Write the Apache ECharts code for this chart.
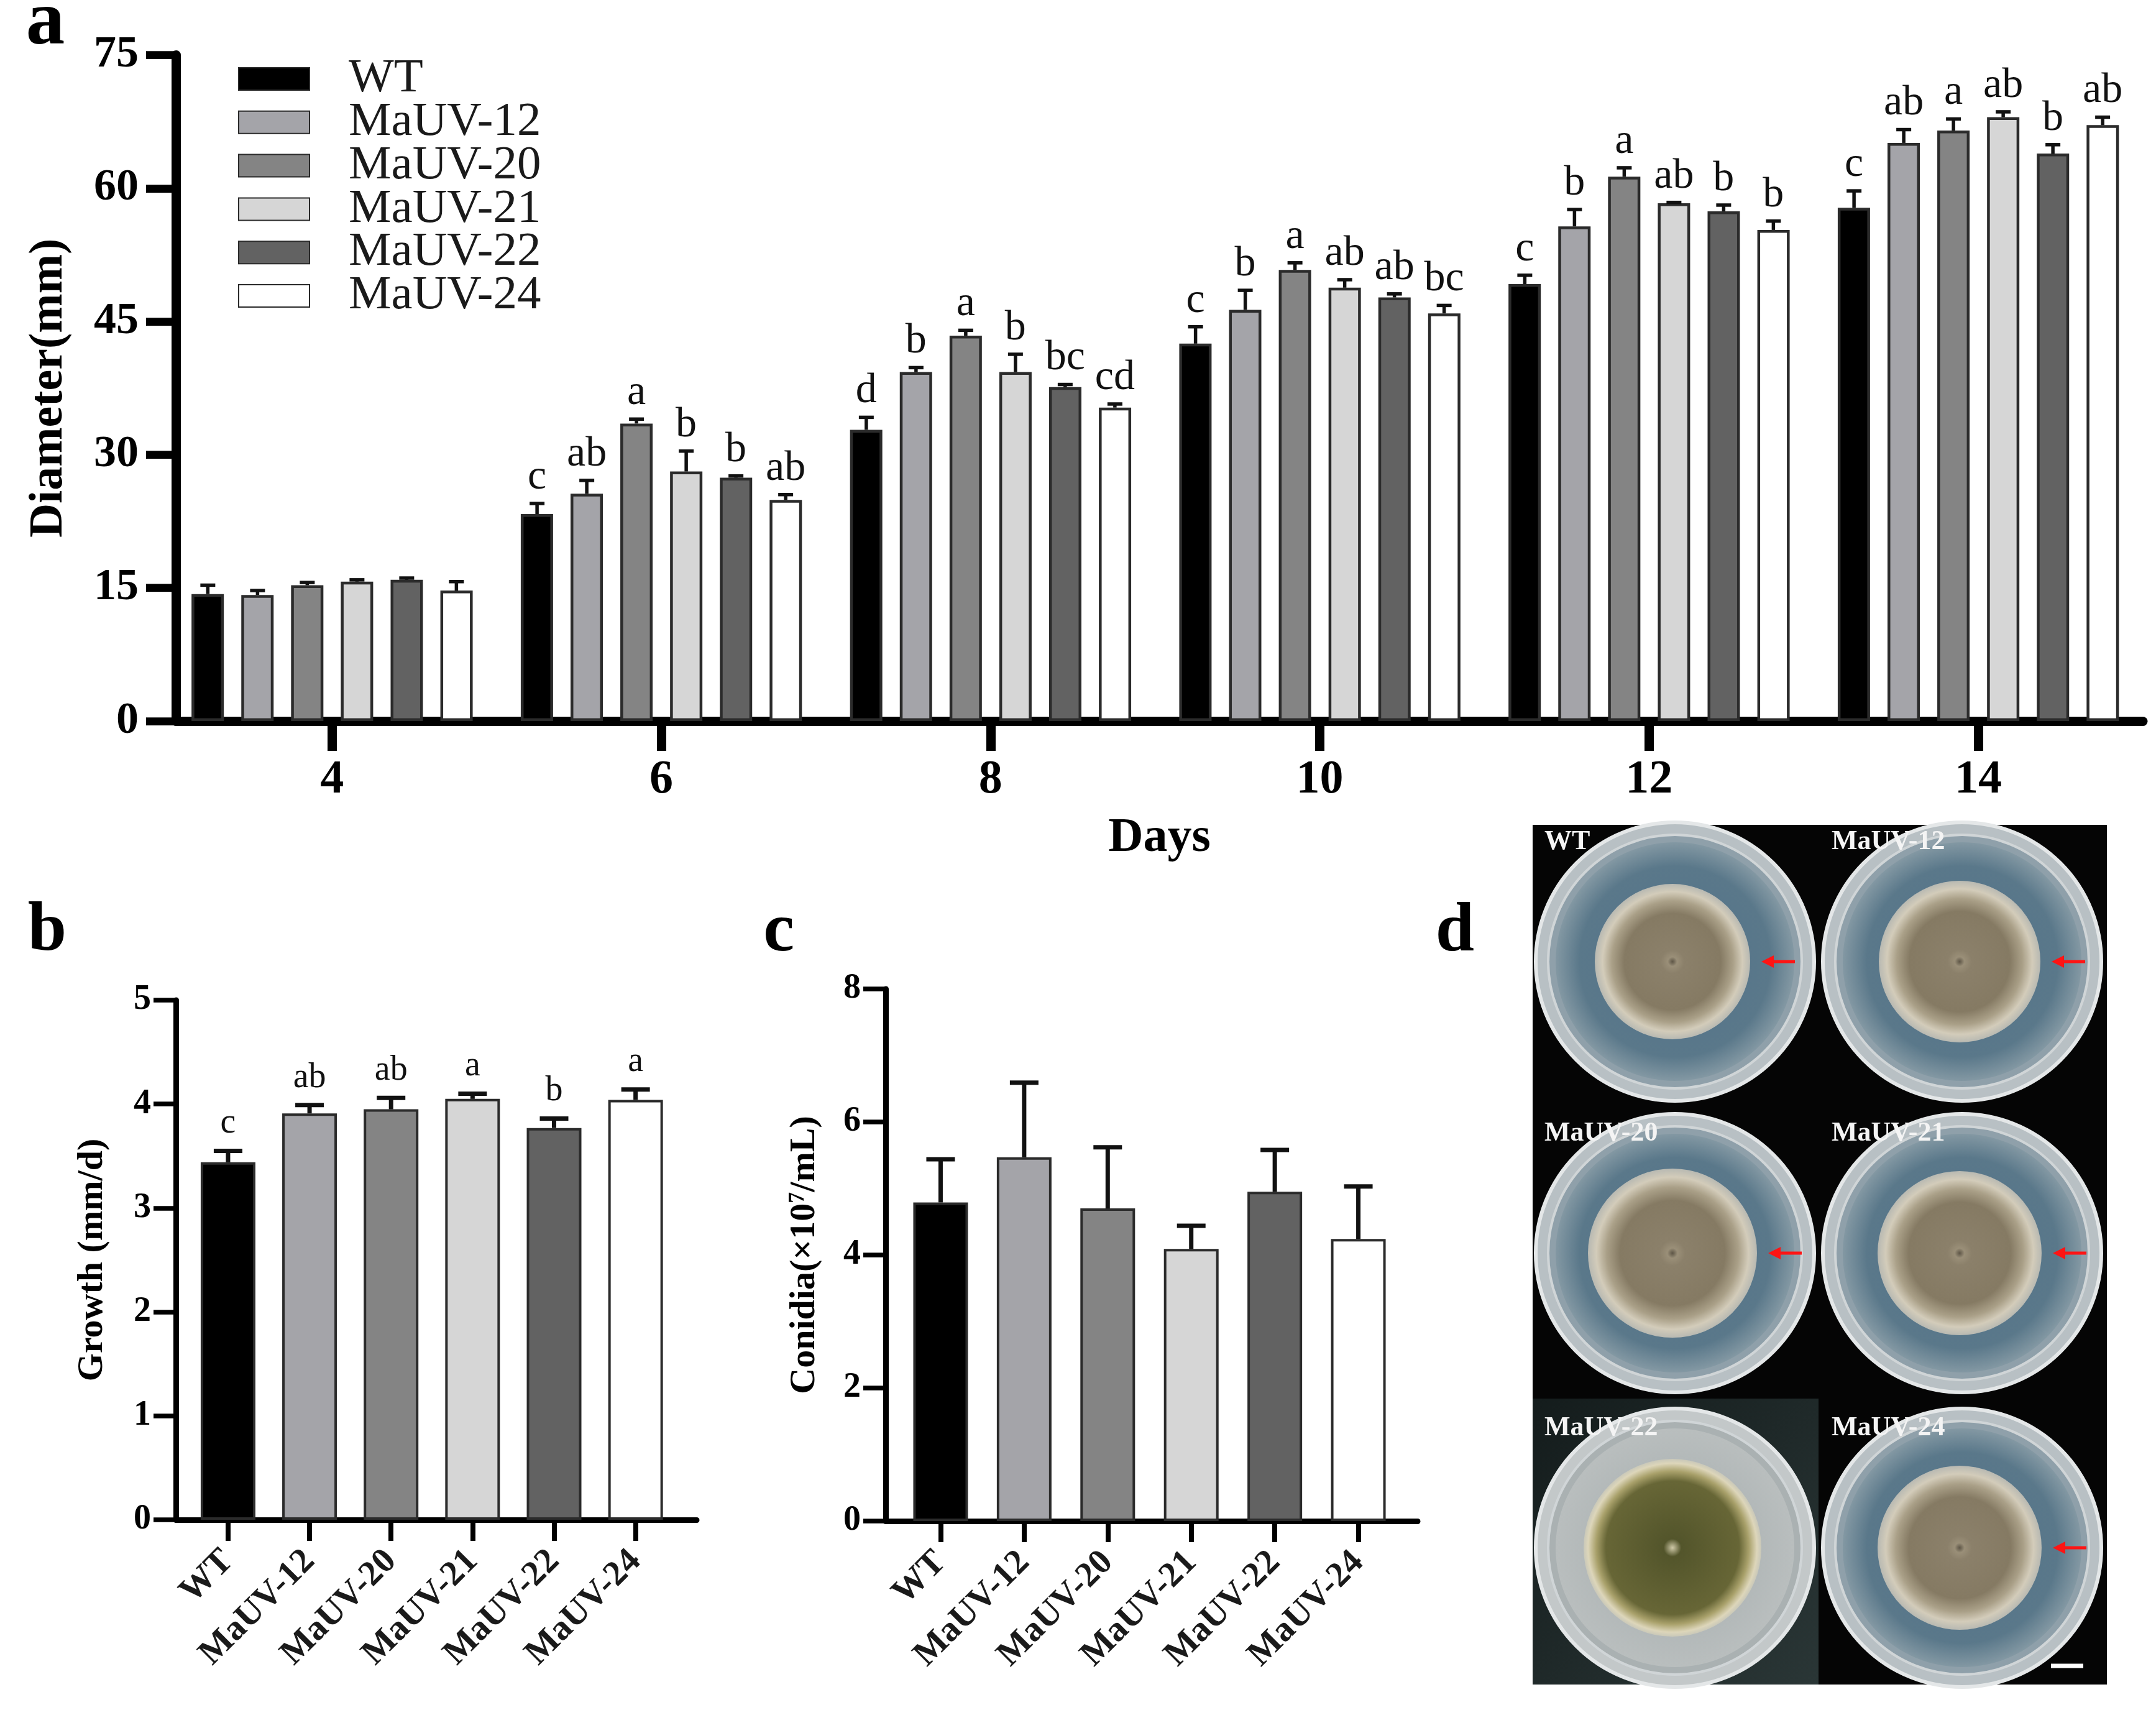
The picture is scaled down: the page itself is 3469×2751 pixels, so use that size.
<!DOCTYPE html>
<html>
<head>
<meta charset="utf-8">
<script src="https://cdn.jsdelivr.net/npm/echarts@6/dist/echarts.min.js"></script>
<style>
  html, body { margin: 0; padding: 0; background: #fff; }
  #chart { width: 3469px; height: 2751px; }
</style>
</head>
<body>
<div id="chart"></div>
<script>
const SERIF = "'Liberation Serif', 'Times New Roman', serif";

// ---- data ----
const days = [4, 6, 8, 10, 12, 14];
const strains = ['WT', 'MaUV-12', 'MaUV-20', 'MaUV-21', 'MaUV-22', 'MaUV-24'];
const fills = ['#000000', '#a4a4a9', '#848484', '#d6d6d6', '#626262', '#ffffff'];

// panel a: colony diameter (mm) per day, mean and upper error
const diamWT = [14.3, 23.3, 32.8, 42.5, 49.2, 57.8];
const diam12 = [14.2, 25.6, 39.3, 46.3, 55.7, 65.1];
const diam20 = [15.3, 33.5, 43.4, 50.8, 61.3, 66.5];
const diam21 = [15.7, 28.1, 39.3, 48.8, 58.3, 68.0];
const diam22 = [15.9, 27.4, 37.6, 47.7, 57.4, 63.9];
const diam24 = [14.7, 24.9, 35.3, 45.9, 55.3, 67.1];

const errWT = [1.0, 1.2, 1.4, 1.9, 1.0, 1.9];
const err12 = [0.5, 1.5, 0.5, 2.2, 1.9, 1.5];
const err20 = [0.3, 0.5, 0.6, 0.8, 1.0, 1.3];
const err21 = [0.2, 2.3, 2.0, 0.9, 0.1, 0.6];
const err22 = [0.2, 0.2, 0.3, 0.4, 0.7, 1.0];
const err24 = [1.0, 0.6, 0.4, 0.9, 1.0, 0.9];

const sigWT = ['', 'c', 'd', 'c', 'c', 'c'];
const sig12 = ['', 'ab', 'b', 'b', 'b', 'ab'];
const sig20 = ['', 'a', 'a', 'a', 'a', 'a'];
const sig21 = ['', 'b', 'b', 'ab', 'ab', 'ab'];
const sig22 = ['', 'b', 'bc', 'ab', 'b', 'b'];
const sig24 = ['', 'ab', 'cd', 'bc', 'b', 'ab'];

// panel b: growth rate (mm/d)
const growth = [3.44, 3.91, 3.95, 4.05, 3.77, 4.04];
const growthErr = [0.11, 0.08, 0.11, 0.05, 0.09, 0.10];
const growthSig = ['c', 'ab', 'ab', 'a', 'b', 'a'];

// panel c: conidia (x10^7 /mL)
const conidia = [4.79, 5.47, 4.70, 4.09, 4.95, 4.24];
const conidiaErr = [0.65, 1.12, 0.92, 0.35, 0.63, 0.79];

const diamMeans = [diamWT, diam12, diam20, diam21, diam22, diam24];
const diamErrs = [errWT, err12, err20, err21, err22, err24];
const diamSigs = [sigWT, sig12, sig20, sig21, sig22, sig24];

// ---- error bar rows ----
const rowsA = [];
diamMeans.forEach((means, k) => {
    means.forEach((m, i) => {
        rowsA.push({ x: days[i], mean: m, err: diamErrs[k][i], offset: k - 2.5, letter: diamSigs[k][i] });
    });
});
const rowsB = growth.map((m, i) => ({ x: i, mean: m, err: growthErr[i], offset: 0, letter: growthSig[i] }));
const rowsC = conidia.map((m, i) => ({ x: i, mean: m, err: conidiaErr[i], offset: 0, letter: '' }));

function errorRenderer(rows, pitch, capW, lw, fontSize, gap) {
    return (params, api) => {
        const r = rows[params.dataIndex];
        const base = api.coord([r.x, r.mean]);
        const top = api.coord([r.x, r.mean + r.err]);
        const cx = base[0] + r.offset * pitch;
        const children = [
            { type: 'line', shape: { x1: cx, y1: base[1], x2: cx, y2: top[1] }, style: { stroke: '#111', lineWidth: lw } },
            { type: 'line', shape: { x1: cx - capW / 2, y1: top[1], x2: cx + capW / 2, y2: top[1] }, style: { stroke: '#111', lineWidth: lw } },
        ];
        if (r.letter) {
            children.push({
                type: 'text', x: cx, y: top[1] - gap,
                style: { text: r.letter, fill: '#111', fontFamily: SERIF, fontSize, align: 'center', verticalAlign: 'bottom' },
            });
        }
        return { type: 'group', children };
    };
}

// ---- panel d (photo stand-in) ----
const dishCols = [2695, 3157];
const dishRows = [1547, 2016, 2490];
const colonyR = [125, 130, 136, 132, 143, 132];
const arrowed = [true, true, true, true, false, true];

function dishGraphics() {
    const els = [];
    els.push({ type: 'rect', shape: { x: 2466, y: 1327, width: 924, height: 1383 }, style: { fill: '#050505' } });
    els.push({ type: 'rect', shape: { x: 2466, y: 2250, width: 460, height: 460 },
        style: { fill: { type: 'linear', x: 0, y: 0, x2: 1, y2: 1, colorStops: [{ offset: 0, color: '#141c1c' }, { offset: 1, color: '#2a3636' }] } } });
    strains.forEach((name, k) => {
        const cx = dishCols[k % 2];
        const cy = dishRows[Math.floor(k / 2)];
        const green = k === 4;
        els.push({ type: 'circle', shape: { cx, cy, r: 224 },
            style: { fill: green ? '#c3c8c9' : '#b8c0c4', stroke: '#e4e7e8', lineWidth: 6 } });
        els.push({ type: 'circle', shape: { cx, cy, r: 204 },
            style: { fill: green ? '#aab1b2' : '#8fa0aa', stroke: '#d0d5d7', lineWidth: 4 } });
        els.push({ type: 'circle', shape: { cx, cy, r: 192 },
            style: { fill: { type: 'radial', x: 0.5, y: 0.5, r: 0.5, colorStops: green
                ? [{ offset: 0, color: '#a2aaab' }, { offset: 1, color: '#b9bebe' }]
                : [{ offset: 0, color: '#52728a' }, { offset: 0.8, color: '#5a788a' }, { offset: 1, color: '#8398a3' }] } } });
        els.push({ type: 'circle', shape: { cx: cx - 4, cy, r: colonyR[k] },
            style: { fill: { type: 'radial', x: 0.5, y: 0.5, r: 0.5, colorStops: green
                ? [{ offset: 0, color: '#cfc9a8' }, { offset: 0.1, color: '#53552b' }, { offset: 0.75, color: '#676636' },
                   { offset: 0.86, color: '#a9a16b' }, { offset: 0.95, color: '#ddd6ba' }, { offset: 1, color: '#c9c8b9' }]
                : [{ offset: 0, color: '#5d5546' }, { offset: 0.06, color: '#9a8f78' }, { offset: 0.15, color: '#8b806a' },
                   { offset: 0.62, color: '#857a63' }, { offset: 0.78, color: '#aaa088' }, { offset: 0.9, color: '#d3ccba' },
                   { offset: 1, color: '#b8b9b2' }] } } });
        els.push({ type: 'text', x: cx - 210, y: cy - 214,
            style: { text: name, fill: '#f4f4f4', fontFamily: SERIF, fontWeight: 'bold', fontSize: 44, align: 'left', verticalAlign: 'top' } });
        if (arrowed[k]) {
            const tx = cx + colonyR[k] + 14;
            els.push({ type: 'line', shape: { x1: tx + 12, y1: cy, x2: tx + 54, y2: cy }, style: { stroke: '#ff1414', lineWidth: 5 } });
            els.push({ type: 'polygon', shape: { points: [[tx, cy], [tx + 20, cy - 10], [tx + 20, cy + 10]] }, style: { fill: '#ff1414' } });
        }
    });
    els.push({ type: 'line', shape: { x1: 3300, y1: 2680, x2: 3352, y2: 2680 }, style: { stroke: '#ffffff', lineWidth: 7 } });
    return els;
}

function panelLetter(t, x, y, size) {
    return { type: 'text', x, y, style: { text: t, fill: '#000', fontFamily: SERIF, fontWeight: 'bold', fontSize: size, align: 'center', verticalAlign: 'middle' } };
}

// ---- axes helpers ----
function yAxisCfg(gridIndex, max, interval, name, nameGap, fs, margin, lineW, tickLen, rich) {
    return {
        type: 'value', gridIndex, min: 0, max, interval,
        name, nameLocation: 'middle', nameGap,
        nameTextStyle: { fontFamily: SERIF, fontWeight: 'bold', fontSize: fs.name, color: '#000', rich },
        axisLine: { show: true, onZero: false, lineStyle: { color: '#000', width: lineW } },
        axisTick: { show: true, inside: false, length: tickLen, lineStyle: { color: '#000', width: lineW * 0.85 } },
        axisLabel: { fontFamily: SERIF, fontWeight: 'bold', fontSize: fs.label, color: '#000', margin },
        splitLine: { show: false },
    };
}

const strainIdx = [0, 1, 2, 3, 4, 5];
function strainXAxis(gridIndex, min, max) {
    return {
        type: 'value', gridIndex, min, max,
        axisLine: { onZero: false, lineStyle: { color: '#000', width: 9 } },
        axisTick: { customValues: strainIdx, length: 34, lineStyle: { color: '#000', width: 8 } },
        axisLabel: { customValues: strainIdx, formatter: v => strains[v], rotate: 45, margin: 58,
            fontFamily: SERIF, fontWeight: 'bold', fontSize: 57, color: '#1a1a1a' },
        splitLine: { show: false },
    };
}

const chart = echarts.init(document.getElementById('chart'), null, { renderer: 'canvas' });

const seriesA = strains.map((name, k) => ({
    name, type: 'bar', xAxisIndex: 0, yAxisIndex: 0,
    barWidth: 52, barGap: '54%',
    itemStyle: { color: fills[k], borderColor: '#2b2b2b', borderWidth: 4.5 },
    data: days.map((d, i) => [d, diamMeans[k][i]]),
    z: 2,
}));

chart.setOption({
    animation: false,
    backgroundColor: '#ffffff',
    grid: [
        { left: 283, top: 88.5, right: 21, bottom: 1591 },
        { left: 283, top: 1609, right: 2348, bottom: 306 },
        { left: 1425, top: 1591, right: 1188, bottom: 304 },
    ],
    legend: {
        data: strains, orient: 'vertical', left: 378, top: 83.5,
        itemWidth: 114, itemHeight: 36, itemGap: -7.2, icon: 'rect', selectedMode: false,
        textStyle: { fontFamily: SERIF, fontSize: 77, color: '#1a1a1a', padding: [0, 0, 0, 58] },
    },
    xAxis: [
        {
            type: 'value', gridIndex: 0, min: 3.051, max: 15,
            name: 'Days', nameLocation: 'middle', nameGap: 150,
            nameTextStyle: { fontFamily: SERIF, fontWeight: 'bold', fontSize: 78, color: '#000' },
            axisLine: { onZero: false, lineStyle: { color: '#000', width: 15 } },
            axisTick: { customValues: days, length: 48, lineStyle: { color: '#000', width: 15 } },
            axisLabel: { customValues: days, margin: 57, fontFamily: SERIF, fontWeight: 'bold', fontSize: 76, color: '#000' },
            splitLine: { show: false },
        },
        strainXAxis(1, -0.64, 5.75),
        strainXAxis(2, -0.658, 5.71),
    ],
    yAxis: [
        yAxisCfg(0, 75, 15, 'Diameter(mm)', 166, { name: 76, label: 72 }, 60, 15, 48),
        yAxisCfg(1, 5, 1, 'Growth (mm/d)', 105, { name: 58, label: 56 }, 40, 9, 36),
        yAxisCfg(2, 8, 2, 'Conidia(×10{sup|7}/mL)', 101, { name: 58, label: 56 }, 40, 9, 36,
            { sup: { fontFamily: SERIF, fontWeight: 'bold', fontSize: 36, verticalAlign: 'top', padding: [0, 0, 22, 0] } }),
    ],
    series: [
        ...seriesA,
        {
            name: 'diamErr', type: 'custom', xAxisIndex: 0, yAxisIndex: 0,
            renderItem: errorRenderer(rowsA, 80, 24, 5.5, 68, 8),
            data: rowsA.map(r => [r.x, r.mean + r.err]), z: 5,
        },
        {
            name: 'growth', type: 'bar', xAxisIndex: 1, yAxisIndex: 1, barWidth: 88,
            data: growth.map((v, i) => ({ value: [i, v], itemStyle: { color: fills[i] } })),
            itemStyle: { borderColor: '#2b2b2b', borderWidth: 4 },
        },
        {
            name: 'growthErr', type: 'custom', xAxisIndex: 1, yAxisIndex: 1,
            renderItem: errorRenderer(rowsB, 0, 46, 7, 56, 16),
            data: rowsB.map(r => [r.x, r.mean + r.err]), z: 5,
        },
        {
            name: 'conidia', type: 'bar', xAxisIndex: 2, yAxisIndex: 2, barWidth: 88,
            data: conidia.map((v, i) => ({ value: [i, v], itemStyle: { color: fills[i] } })),
            itemStyle: { borderColor: '#2b2b2b', borderWidth: 4 },
        },
        {
            name: 'conidiaErr', type: 'custom', xAxisIndex: 2, yAxisIndex: 2,
            renderItem: errorRenderer(rowsC, 0, 46, 7, 56, 16),
            data: rowsC.map(r => [r.x, r.mean + r.err]), z: 5,
        },
    ],
    graphic: [
        panelLetter('a', 73, 38, 125),
        panelLetter('b', 76, 1499, 112),
        panelLetter('c', 1253, 1500, 112),
        panelLetter('d', 2341, 1500, 112),
        ...dishGraphics(),
    ],
});
</script>
</body>
</html>
